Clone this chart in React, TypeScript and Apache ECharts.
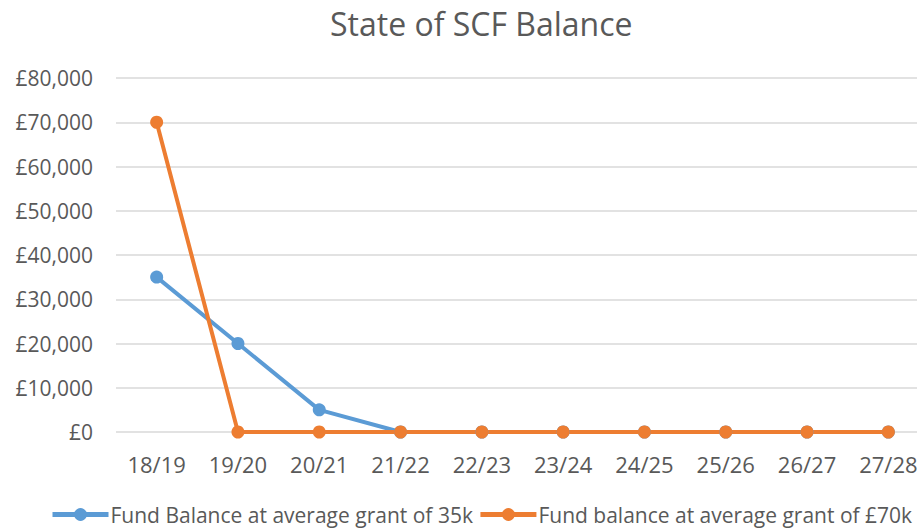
import React, { useEffect, useRef } from "react";
import * as echarts from "echarts";

const categories = ["18/19", "19/20", "20/21", "21/22", "22/23", "23/24", "24/25", "25/26", "26/27", "27/28"];
const balance35k = [35000, 20000, 5000, 0, 0, 0, 0, 0, 0, 0];
const balance70k = [70000, 0, 0, 0, 0, 0, 0, 0, 0, 0];
const seriesNames = ["Fund Balance at average grant of 35k", "Fund balance at average grant of £70k"];

export default function App() {
  const ref = useRef<HTMLDivElement>(null);
  useEffect(() => {
    if (!ref.current) return;
    const chart = echarts.init(ref.current, null, { renderer: "svg" });
    const font = "'Open Sans', sans-serif";
    chart.setOption({
      animation: false,
      backgroundColor: "#ffffff",
      title: {
        text: "State of SCF Balance",
        left: 325,
        top: 2,
        textStyle: { fontFamily: font, fontSize: 32, fontWeight: "normal", color: "#595959" },
      },
      legend: {
        bottom: 5,
        left: 50,
        padding: 0,
        itemWidth: 56,
        itemHeight: 16,
        itemGap: 5,
        lineStyle: { width: 5 },
        textStyle: { fontFamily: font, fontSize: 21, color: "#595959", padding: [0, 0, 0, -3] },
        data: seriesNames,
      },
      grid: { left: 116, top: 78, bottom: 98, right: -12, containLabel: false, outerBoundsMode: "none" },
      xAxis: {
        type: "category",
        data: categories,
        boundaryGap: true,
        axisLine: { show: false },
        axisTick: { show: false },
        axisLabel: { fontFamily: font, fontSize: 22, color: "#595959", margin: 21 },
      },
      yAxis: {
        type: "value",
        min: 0,
        max: 80000,
        interval: 10000,
        axisLine: { show: false },
        axisTick: { show: false },
        splitLine: { lineStyle: { color: "#D9D9D9", width: 1.5 } },
        axisLabel: {
          fontFamily: font,
          fontSize: 21,
          color: "#595959",
          margin: 23,
          formatter: (v: number) => "£" + v.toLocaleString("en-GB"),
        },
      },
      series: [
        {
          name: seriesNames[0],
          type: "line",
          data: balance35k,
          symbol: "circle",
          symbolSize: 13,
          lineStyle: { color: "#5B9BD5", width: 4 },
          itemStyle: { color: "#5B9BD5" },
        },
        {
          name: seriesNames[1],
          type: "line",
          data: balance70k,
          symbol: "circle",
          symbolSize: 13,
          lineStyle: { color: "#ED7D31", width: 4 },
          itemStyle: { color: "#ED7D31" },
        },
      ],
    });
    return () => chart.dispose();
  }, []);
  return <div ref={ref} style={{ width: 917, height: 530, position: "absolute", left: 0, top: 0 }} />;
}
